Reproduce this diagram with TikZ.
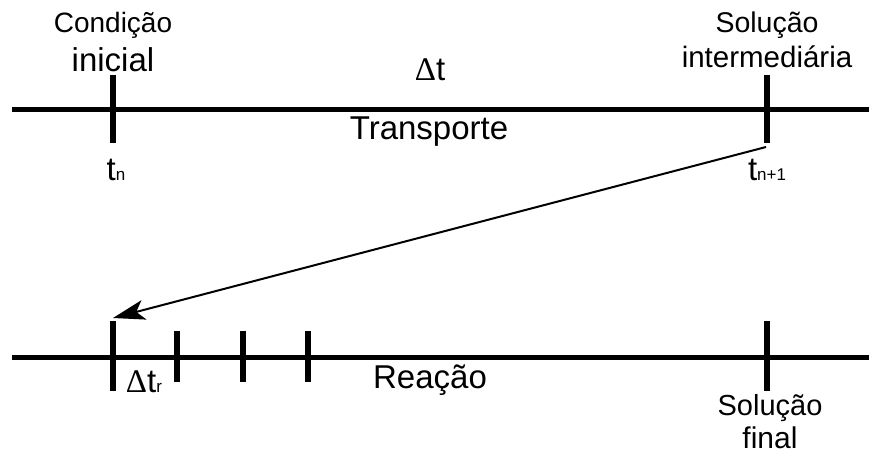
\documentclass[tikz,border=0pt]{standalone}
\usepackage{fontspec}
\setmainfont{Liberation Sans}
\newfontfamily\deltafont{Liberation Serif}
\usetikzlibrary{arrows.meta}
\newcommand{\subtxt}[1]{{\fontsize{17}{20}\selectfont #1}}
\newcommand{\dlt}{{\deltafont Δ}}
\begin{document}
\begin{tikzpicture}[x=1pt,y=-1pt,
  axis/.style={line width=5pt},
  bigtick/.style={line width=5.5pt},
  lbl/.style={inner sep=0pt, anchor=base, font=\fontsize{33}{38}\selectfont},
  mid/.style={inner sep=0pt, anchor=base, font=\fontsize{29}{34}\selectfont}]
\useasboundingbox (0,0) rectangle (869,457);
% top axis
\coordinate (a1) at (12,109.5);
\coordinate (a2) at (869,109.5);
\draw[axis] (a1) -- (a2);
\coordinate (t1a) at (113,75); \coordinate (t1b) at (113,143);
\coordinate (t2a) at (767,75); \coordinate (t2b) at (767,143);
\draw[bigtick] (t1a) -- (t1b);
\draw[bigtick] (t2a) -- (t2b);
% bottom axis
\coordinate (b1) at (12,357);
\coordinate (b2) at (869,357);
\draw[axis] (b1) -- (b2);
\coordinate (r1a) at (113,321); \coordinate (r1b) at (113,391);
\coordinate (r2a) at (767,321); \coordinate (r2b) at (767,391);
\draw[bigtick] (r1a) -- (r1b);
\draw[bigtick] (r2a) -- (r2b);
\foreach \x/\n in {177/s1,243/s2,308/s3}{
  \coordinate (\n a) at (\x,331); \coordinate (\n b) at (\x,382);
  \draw[bigtick] (\n a) -- (\n b);
}
% arrow
\coordinate (as) at (766,147);
\coordinate (ae) at (113,318);
\draw[line width=2pt,-{Stealth[length=32pt,width=20pt,inset=8pt]}] (as) -- (ae);
% labels
\node[mid, font=\fontsize{28}{33}\selectfont] (ci1) at (113,33) {Condição};
\node[lbl] (ci2) at (113,72) {inicial};
\node[mid, font=\fontsize{28.5}{33}\selectfont] (si1) at (767,33) {Solução};
\node[mid, font=\fontsize{29.5}{34}\selectfont] (si2) at (767,68) {intermediária};
\node[lbl] (dt) at (430,81) {\dlt t};
\node[lbl] (tr) at (429,140) {Transporte};
\node[lbl] (tn) at (116,180) {t\subtxt{n}};
\node[lbl] (tn1) at (767,180) {t\subtxt{n+1}};
\node[lbl] (dtr) at (144,392) {\dlt t\subtxt{r}};
\node[lbl] (re) at (430,388) {Reação};
\node[mid] (sf1) at (770,415) {Solução};
\node[mid, font=\fontsize{30}{34}\selectfont] (sf2) at (770,448) {final};
\end{tikzpicture}
\end{document}
